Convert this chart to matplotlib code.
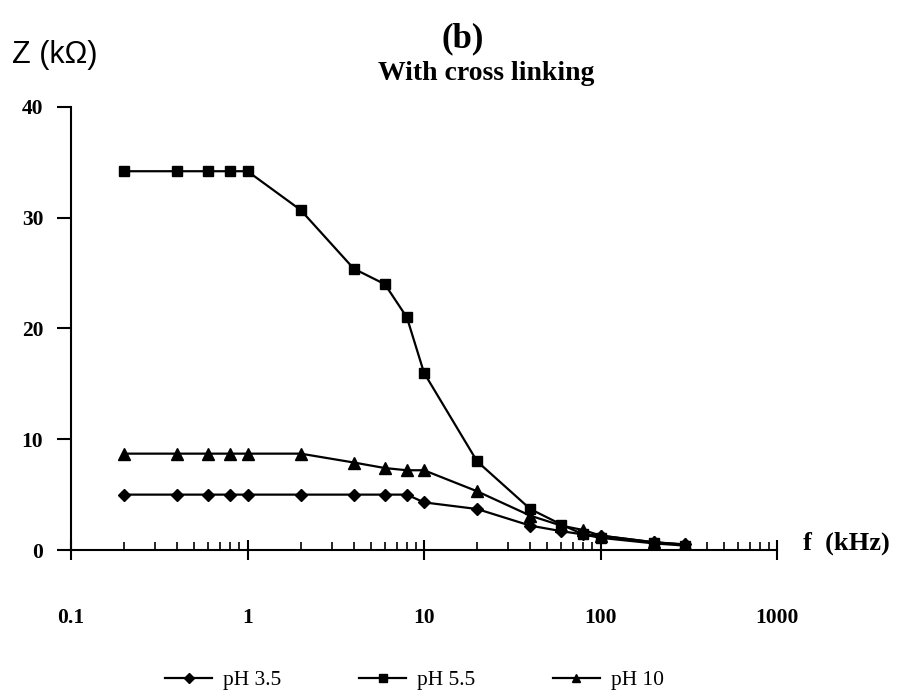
import matplotlib
matplotlib.use("Agg")
import matplotlib.pyplot as plt
from matplotlib.ticker import LogLocator, NullFormatter, FixedLocator, FixedFormatter

# data (f in kHz, Z in kOhm)
freq = [0.2, 0.4, 0.6, 0.8, 1, 2, 4, 6, 8, 10, 20, 40, 60, 80, 100, 200, 300]
z_ph35 = [5.0, 5.0, 5.0, 5.0, 5.0, 5.0, 5.0, 5.0, 5.0, 4.3, 3.7, 2.2, 1.7, 1.4, 1.3, 0.7, 0.5]
z_ph55 = [34.2, 34.2, 34.2, 34.2, 34.2, 30.7, 25.4, 24.0, 21.0, 16.0, 8.0, 3.7, 2.3, 1.4, 1.1, 0.6, 0.4]
z_ph10 = [8.7, 8.7, 8.7, 8.7, 8.7, 8.7, 7.9, 7.4, 7.2, 7.2, 5.3, 3.1, 2.2, 1.8, 1.3, 0.7, 0.5]
labels = ["pH 3.5", "pH 5.5", "pH 10"]
xticks = [0.1, 1, 10, 100, 1000]
xtick_labels = ["0.1", "1", "10", "100", "1000"]
yticks = [0, 10, 20, 30, 40]

serif = "Liberation Serif"

fig = plt.figure(figsize=(9.01, 6.97), dpi=100)
ax = fig.add_axes([0.0788, 0.2109, 0.7836, 0.6356])

ax.plot(freq, z_ph35, color="black", lw=1.6, marker="D", ms=6.5, label=labels[0])
ax.plot(freq, z_ph55, color="black", lw=1.6, marker="s", ms=7.5, label=labels[1])
ax.plot(freq, z_ph10, color="black", lw=1.6, marker="^", ms=8.5, label=labels[2])

ax.set_xscale("log")
ax.set_xlim(0.1, 1000)
ax.set_ylim(0, 40)

for s in ["top", "right"]:
    ax.spines[s].set_visible(False)
for s in ["left", "bottom"]:
    ax.spines[s].set_linewidth(1.5)

ax.xaxis.set_major_locator(FixedLocator(xticks))
ax.xaxis.set_major_formatter(FixedFormatter(xtick_labels))
ax.xaxis.set_minor_locator(LogLocator(base=10, subs=range(2, 10)))
ax.xaxis.set_minor_formatter(NullFormatter())
ax.tick_params(axis="x", which="major", direction="inout", length=14, width=1.5, pad=35)
ax.tick_params(axis="x", which="minor", direction="in", length=6, width=1.2)

ax.set_yticks(yticks)
ax.tick_params(axis="y", which="major", direction="out", length=10, width=1.5, pad=10)

for lab in ax.get_xticklabels() + ax.get_yticklabels():
    lab.set_fontfamily(serif)
    lab.set_fontweight("bold")
    lab.set_fontsize(15.5)

fig.text(0.514, 0.945, "(b)", ha="center", va="center", family=serif,
         fontweight="bold", fontsize=25)
fig.text(0.54, 0.895, "With cross linking", ha="center", va="center", family=serif,
         fontweight="bold", fontsize=20)
fig.text(0.013, 0.921, "Z (k\u03a9)", ha="left", va="center", family="Liberation Sans",
         fontsize=22)
fig.text(0.891, 0.221, "f  (kHz)", ha="left", va="center", family=serif,
         fontweight="bold", fontsize=19)

fig.legend(loc="center", bbox_to_anchor=(0.46, 0.024), ncol=3, frameon=False,
           prop={"family": serif, "size": 15.5}, handlelength=2.2, handletextpad=0.5,
           columnspacing=3.6, markerscale=0.75)

fig.savefig("out.png", dpi=100)
